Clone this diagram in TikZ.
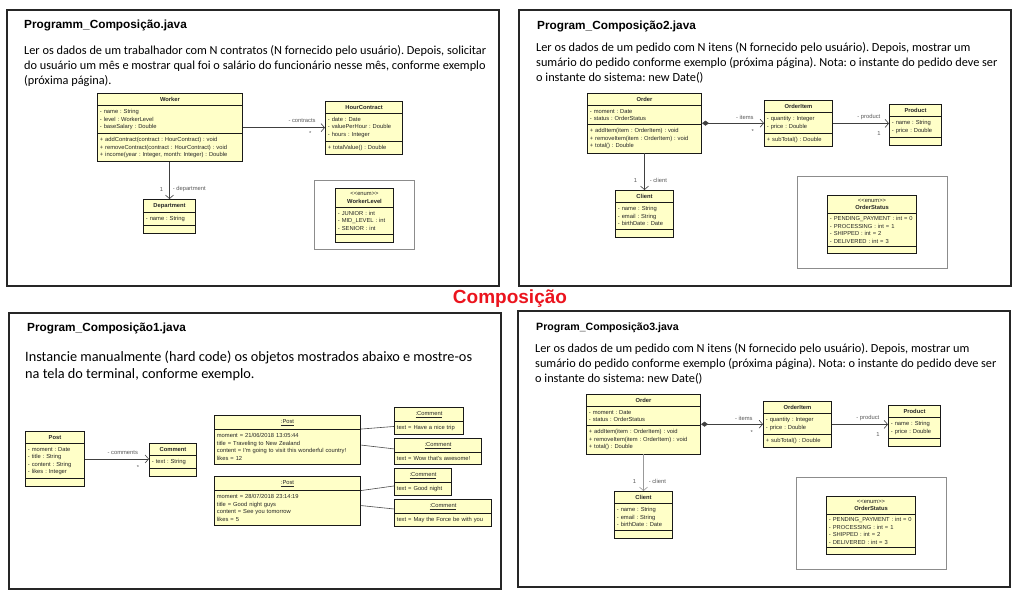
\documentclass[tikz,border=0pt]{standalone}
\usepackage{fontspec}
\setmainfont{Carlito}
\newfontfamily\arialfont{Liberation Sans}
\usetikzlibrary{shapes.multipart, arrows.meta}
\frenchspacing

\definecolor{umlyellow}{RGB}{255,255,200}
\definecolor{compred}{RGB}{235,20,30}
\newcommand\umlfont{\arialfont\fontsize{5.8}{7.5}\selectfont}
\newcommand\objfont{\arialfont\fontsize{5.8}{7.8}\selectfont}
\newcommand\ctitle[1]{\noindent\makebox[\hsize]{#1}}

\tikzset{
    umlclass/.style={rectangle split, rectangle split parts=3, draw=black!90, line width=0.8pt,
        fill=umlyellow, font=\umlfont, text=black!85, inner xsep=2.5pt, inner ysep=3.5pt,
        align=left, anchor=north west, text width=#1},
    umlobject/.style={umlclass=#1, rectangle split parts=2, font=\objfont},
    lbl/.style={font=\umlfont, text=black!65, inner sep=1pt},
    assoc/.style={draw=black!75, line width=0.6pt, -{Straight Barb[length=3.5pt, width=8pt]}},
    compo/.style={draw=black!75, line width=0.6pt, {Diamond[length=7pt, width=5pt]}-{Straight Barb[length=3.5pt, width=8pt]}},
    link/.style={draw=black!70, line width=0.6pt},
    panel/.style={draw=black!85, line width=1.3pt},
    enumframe/.style={draw=black!45, line width=0.8pt},
    ptitle/.style={font=\arialfont\bfseries\fontsize{11.8}{12}\selectfont, inner sep=0pt, anchor=base west},
    desc/.style={font=\fontsize{12.3}{15}\selectfont, align=left, inner sep=0pt, anchor=base west},
}

\begin{document}
\begin{tikzpicture}[x=1pt, y=-1pt]
    \useasboundingbox (0,0) rectangle (1025,605);
    \fill[white] (0,0) rectangle (1025,605);

    % Programm_Composicao
    \draw[panel] (7,10) rectangle (499,286);
    \node[ptitle] (title1) at (24,28) {Programm\_Composição.java};
    \node[desc] (desc1) at (24,84) {Ler os dados de um trabalhador com N contratos (N fornecido pelo usuário). Depois, solicitar\\do usuário um mês e mostrar qual foi o salário do funcionário nesse mês, conforme exemplo\\(próxima página).};
    \node[umlclass=140.2pt] (worker) at (97,93) {\ctitle{\textbf{Worker}}
        \nodepart{two}- name : String\\- level : WorkerLevel\\- baseSalary : Double
        \nodepart{three}+ addContract(contract : HourContract) : void\\+ removeContract(contract : HourContract) : void\\+ income(year : Integer, month: Integer) : Double};
    \node[umlclass=72.2pt] (hour) at (325,101) {\ctitle{\textbf{HourContract}}
        \nodepart{two}- date : Date\\- valuePerHour : Double\\- hours : Integer
        \nodepart{three}+ totalValue() : Double};
    \node[umlclass=47.2pt] (dept) at (143,199) {\ctitle{\textbf{Department}}
        \nodepart{two}- name : String
        \nodepart{three}};
    \draw[enumframe] (314,180) rectangle (414,249);
    \node[umlclass=53.2pt] (wlevel) at (335,188) {\ctitle{{<}{<}enum{>}{>}}\\\ctitle{\textbf{WorkerLevel}}
        \nodepart{two}- JUNIOR : int\\- MID\_LEVEL : int\\- SENIOR : int
        \nodepart{three}};
    \draw[assoc] (worker.east) -- (worker.east -| hour.west)
        node[lbl, pos=0.72, above=4pt] (lcontracts) {- contracts}
        node[lbl, pos=0.82, below=3pt] (mcontracts) {*};
    \draw[assoc] (worker.south -| dept.north) -- (dept.north)
        node[lbl, pos=0.73, left=5pt] (mdept) {1}
        node[lbl, pos=0.73, right=2pt] (ldept) {- department};

    % Program_Composicao2 and Program_Composicao3
    \foreach \p/\dx/\dy/\ts/\lc in {2/0/0/11.8/black!75, 3/-1/301/10.6/black!40} {
        \begin{scope}[shift={(\dx,\dy)}]
            \draw[panel] (519,10) rectangle (1011,286);
            \node[ptitle, font=\arialfont\bfseries\fontsize{\ts}{12}\selectfont] (title\p) at (537,29) {Program\_Composição\p.java};
            \node[desc] (desc\p) at (536,81) {Ler os dados de um pedido com N itens (N fornecido pelo usuário). Depois, mostrar um\\sumário do pedido conforme exemplo (próxima página). Nota: o instante do pedido deve ser\\o instante do sistema: new Date()};
            \node[umlclass=109.2pt] (order\p) at (587,93) {\ctitle{\textbf{Order}}
                \nodepart{two}- moment : Date\\- status : OrderStatus
                \nodepart{three}+ addItem(item : OrderItem) : void\\+ removeItem(item : OrderItem) : void\\+ total() : Double};
            \node[umlclass=63.2pt] (item\p) at (764,100) {\ctitle{\textbf{OrderItem}}
                \nodepart{two}- quantity : Integer\\- price : Double
                \nodepart{three}+ subTotal() : Double};
            \node[umlclass=47.2pt] (product\p) at (889,104) {\ctitle{\textbf{Product}}
                \nodepart{two}- name : String\\- price : Double
                \nodepart{three}};
            \node[umlclass=53.2pt] (client\p) at (615,190) {\ctitle{\textbf{Client}}
                \nodepart{two}- name : String\\- email : String\\- birthDate : Date
                \nodepart{three}};
            \draw[enumframe] (797,176) rectangle (947,268);
            \node[umlclass=84.2pt, inner ysep=3pt] (status\p) at (827,195) {\ctitle{{<}{<}enum{>}{>}}\\\ctitle{\textbf{OrderStatus}}
                \nodepart{two}- PENDING\_PAYMENT : int = 0\\- PROCESSING : int = 1\\- SHIPPED : int = 2\\- DELIVERED : int = 3
                \nodepart{three}};
            \draw[compo] (order\p.east) -- (order\p.east -| item\p.west)
                node[lbl, pos=0.69, above=2pt] (litems\p) {- items}
                node[lbl, pos=0.82, below=5pt] (mitems\p) {*};
            \draw[assoc] (item\p.east) -- (item\p.east -| product\p.west)
                node[lbl, pos=0.64, above=2pt] (lproduct\p) {- product}
                node[lbl, pos=0.82, below=7pt] (mproduct\p) {1};
            \draw[assoc, draw=\lc] (order\p.south -| client\p.north) -- (client\p.north)
                node[lbl, pos=0.73, left=6pt] (mclient\p) {1}
                node[lbl, pos=0.73, right=4pt] (lclient\p) {- client};
        \end{scope}
    }

    % Program_Composicao1
    \draw[panel] (9,313) rectangle (501,589);
    \node[ptitle] (title3) at (27,331) {Program\_Composição1.java};
    \node[desc, font=\fontsize{14.3}{17}\selectfont] (desc3) at (25,378) {Instancie manualmente (hard code) os objetos mostrados abaixo e mostre-os\\na tela do terminal, conforme exemplo.};
    \node[umlclass=54.2pt] (postc) at (25,431) {\ctitle{\textbf{Post}}
        \nodepart{two}- moment : Date\\- title : String\\- content : String\\- likes : Integer
        \nodepart{three}};
    \node[umlclass=42.2pt] (commentc) at (149,443) {\ctitle{\textbf{Comment}}
        \nodepart{two}- text : String
        \nodepart{three}};
    \draw[assoc] (postc.east) -- (postc.east -| commentc.west)
        node[lbl, pos=0.59, above=3pt] (lcomments) {- comments}
        node[lbl, pos=0.83, below=5pt] (mcomments) {*};
    \node[umlobject=141.2pt] (post1) at (214,415) {\ctitle{\underline{:Post}}
        \nodepart{two}moment = 21/06/2018 13:05:44\\title = Traveling to New Zealand\\content = I'm going to visit this wonderful country!\\likes = 12};
    \node[umlobject=141.2pt] (post2) at (214,476) {\ctitle{\underline{:Post}}
        \nodepart{two}moment = 28/07/2018 23:14:19\\title = Good night guys\\content = See you tomorrow\\likes = 5};
    \node[umlobject=64.2pt] (c1) at (394,407) {\ctitle{\underline{:Comment}}
        \nodepart{two}text = Have a nice trip};
    \node[umlobject=82.2pt] (c2) at (394,438) {\ctitle{\underline{:Comment}}
        \nodepart{two}text = Wow that's awesome!};
    \node[umlobject=52.2pt] (c3) at (394,468) {\ctitle{\underline{:Comment}}
        \nodepart{two}text = Good night};
    \node[umlobject=92.2pt] (c4) at (394,499) {\ctitle{\underline{:Comment}}
        \nodepart{two}text = May the Force be with you};
    \draw[link] ([yshift=11pt]post1.east) -- ([yshift=-5.5pt]c1.west);
    \draw[link] ([yshift=-5pt]post1.east) -- ([yshift=2.5pt]c2.west);
    \draw[link] ([yshift=10.5pt]post2.east) -- ([yshift=-4pt]c3.west);
    \draw[link] ([yshift=-4.5pt]post2.east) -- ([yshift=4pt]c4.west);

    \node[font=\arialfont\bfseries\fontsize{19}{19}\selectfont, text=compred, inner sep=0pt] (maintitle) at (510,299) {Composição};
\end{tikzpicture}
\end{document}
